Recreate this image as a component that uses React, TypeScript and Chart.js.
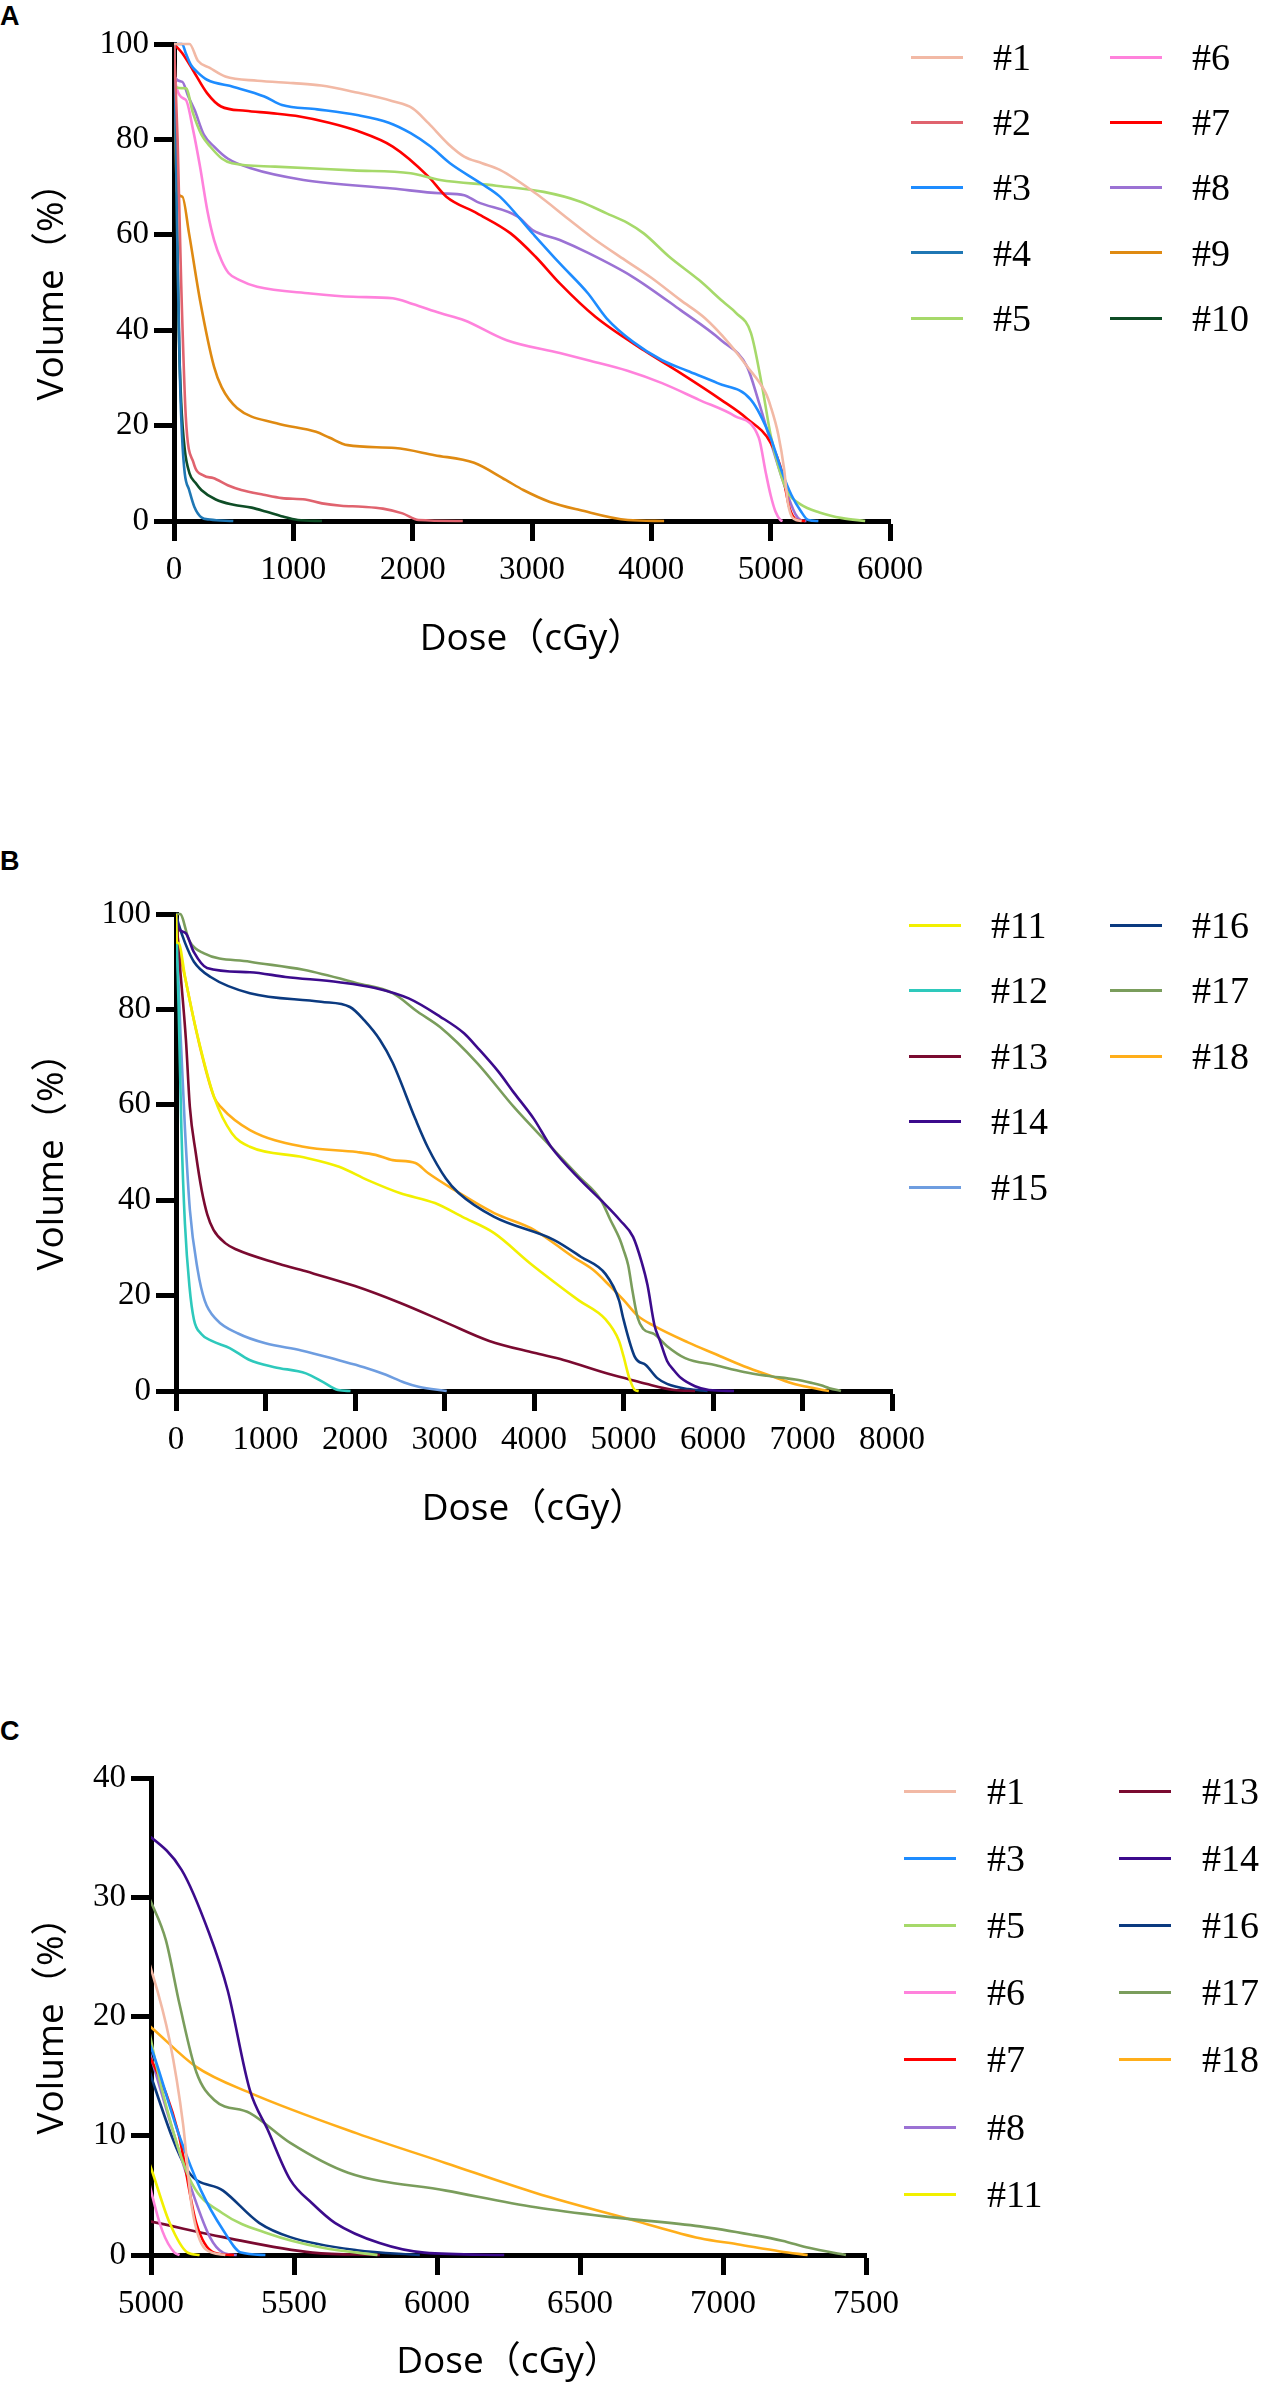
import { useEffect, useRef } from "react";
import { Chart, registerables } from "chart.js";

Chart.register(...registerables);

// DVH curves, [dose (cGy), volume (%)]
const dvh1 = [[0, 100], [130, 100], [200, 96.5], [300, 95], [430, 93.2], [700, 92.3], [1000, 91.8], [1234, 91.3], [1500, 90], [1833, 88], [2000, 86.5], [2132, 83.4], [2300, 79], [2432, 76.4], [2582, 75], [2731, 73.6], [3030, 68.7], [3315, 63.1], [3500, 59.5], [3780, 54.7], [4000, 51], [4245, 46.3], [4450, 42.5], [4649, 37.3], [4800, 32.5], [4959, 26.8], [5000, 24], [5065, 18], [5112, 11], [5143, 4], [5190, 0.5], [5260, 0]];
const dvh2 = [[0, 100], [30, 80], [60, 50], [99, 21.8], [164, 12.2], [250, 9.5], [328, 9], [450, 7.5], [564, 6.5], [750, 5.5], [904, 4.8], [1100, 4.5], [1240, 3.7], [1400, 3.2], [1578, 3], [1750, 2.6], [1915, 1.6], [2050, 0.2], [2420, 0]];
const dvh3 = [[0, 100], [68, 100], [100, 98], [142, 95.6], [200, 94], [277, 92.5], [500, 91], [757, 89], [905, 87.2], [1200, 86.3], [1534, 85.1], [1800, 83.5], [1983, 81.3], [2150, 78.5], [2313, 75], [2571, 70.8], [2731, 68], [3005, 60.3], [3233, 54], [3470, 47.7], [3625, 42.5], [3850, 37.5], [4090, 33.7], [4300, 31.5], [4555, 28.9], [4835, 25.4], [5000, 17.4], [5096, 10.2], [5175, 5.4], [5252, 2.1], [5315, 0.2], [5400, 0]];
const dvh4 = [[0, 100], [15, 80], [30, 55], [50, 30], [67, 18], [90, 10], [127, 6.5], [170, 3], [228, 0.8], [300, 0.3], [497, 0]];
const dvh5 = [[0, 100], [8, 91], [100, 90.7], [159, 85.5], [230, 81], [307, 78.4], [400, 76], [486, 75], [847, 74.3], [1500, 73.5], [1983, 72.9], [2230, 71.5], [2700, 70.3], [3098, 69], [3400, 67], [3625, 64.5], [3800, 62.5], [3936, 60.3], [4150, 55.4], [4400, 50.5], [4600, 46], [4711, 43.6], [4835, 39.4], [4930, 28], [5000, 18], [5070, 11], [5143, 6], [5250, 3.5], [5409, 1.8], [5600, 0.6], [5792, 0]];
const dvh6 = [[0, 100], [8, 92.4], [98, 88.3], [160, 82], [218, 74.3], [280, 65], [336, 58.9], [400, 54.5], [457, 52], [550, 50.5], [697, 49.1], [1145, 47.7], [1500, 47], [1833, 46.7], [2000, 45.5], [2230, 43.6], [2432, 42.1], [2788, 37.9], [3233, 35.2], [3470, 33.7], [3800, 31.5], [4090, 28.9], [4400, 25.4], [4700, 22], [4900, 17.5], [4960, 10], [5000, 5.4], [5040, 2], [5082, 0.2], [5100, 0]];
const dvh7 = [[0, 100], [68, 98.1], [159, 94.5], [277, 89.7], [394, 86.9], [600, 86], [815, 85.5], [1053, 84.8], [1300, 83.5], [1534, 81.8], [1833, 78.5], [2132, 72.2], [2282, 68], [2540, 64.5], [2821, 60.3], [3030, 55.4], [3233, 49.8], [3531, 42.8], [3936, 35.8], [4245, 31], [4585, 25.4], [4800, 21.5], [5000, 16.4], [5096, 10.2], [5158, 2.7], [5221, 0.2], [5290, 0]];
const dvh8 = [[0, 100], [8, 93], [68, 92.1], [120, 89], [172, 86.2], [250, 81], [336, 78.5], [450, 76], [637, 74], [1085, 71.5], [1833, 69.7], [2230, 68.7], [2432, 68.3], [2540, 66.9], [2881, 63.8], [3005, 61], [3233, 58.9], [3470, 56.2], [3843, 51.2], [4245, 44.2], [4585, 37.9], [4803, 32.3], [4895, 25.4], [5000, 16.6], [5128, 6.5], [5206, 1.5], [5252, 0.2], [5300, 0]];
const dvh9 = [[0, 100], [25, 69], [70, 68], [126, 60.3], [218, 46.3], [336, 32.3], [400, 28], [528, 23.7], [859, 20.5], [1190, 18.7], [1300, 17.5], [1455, 15.9], [1853, 15.3], [2184, 13.8], [2515, 12.2], [2780, 8.6], [2927, 6.5], [3150, 4], [3400, 2.3], [3803, 0.2], [4107, 0]];
const dvh10 = [[0, 100], [20, 70], [40, 40], [60, 25], [90, 15], [130, 10], [180, 8], [229, 6.5], [350, 4.5], [499, 3.4], [650, 2.8], [768, 2], [900, 1], [1038, 0.2], [1240, 0]];
const dvh11 = [[0, 100], [10, 94], [28, 93.9], [107, 86.2], [225, 75.7], [426, 61.6], [626, 54], [825, 51.2], [1425, 49], [1823, 47], [2142, 44.2], [2500, 41.5], [2893, 39.4], [3200, 36.5], [3555, 33.1], [3955, 26.8], [4250, 22.5], [4500, 19], [4800, 15], [4950, 10.5], [5000, 7.3], [5065, 2.7], [5128, 0.2], [5170, 0]];
const dvh12 = [[0, 100], [30, 80], [60, 55], [100, 35], [150, 22], [200, 15], [280, 12], [400, 10.5], [600, 9], [822, 6.5], [1100, 5], [1452, 3.7], [1650, 1.8], [1810, 0.2], [1950, 0]];
const dvh13 = [[0, 100], [40, 90], [111, 73.6], [155, 59.5], [220, 50], [287, 42.1], [350, 37], [419, 33.8], [550, 31], [682, 29.6], [1126, 26.8], [1391, 25.4], [2000, 22], [2500, 18.5], [3000, 14.5], [3500, 10.5], [4000, 8], [4330, 6.5], [4870, 3.4], [5000, 2.8], [5252, 1.5], [5565, 0.2], [5800, 0]];
const dvh14 = [[0, 100], [28, 97], [107, 96], [200, 92], [346, 88.7], [826, 87.8], [1225, 86.8], [1823, 85.7], [2224, 84.5], [2600, 82.3], [2950, 78.5], [3218, 75], [3363, 72.1], [3600, 67], [3777, 62.5], [4000, 57], [4190, 51.2], [4521, 44.2], [4749, 40], [4961, 35.8], [5107, 32.3], [5203, 27], [5268, 22.2], [5346, 13.8], [5408, 10.5], [5487, 6.3], [5565, 4.3], [5643, 2.7], [5799, 1], [5955, 0.2], [6235, 0]];
const dvh15 = [[0, 100], [50, 75], [100, 55], [155, 38], [242, 25.4], [320, 19], [450, 15], [700, 12], [1000, 10], [1400, 8.5], [1810, 6.5], [2100, 5], [2346, 3.4], [2550, 1.8], [2710, 0.9], [3025, 0]];
const dvh16 = [[0, 100], [28, 98], [100, 94], [200, 90], [387, 86.8], [826, 83.4], [1620, 81.6], [1944, 80.5], [2100, 77.8], [2279, 73.6], [2421, 68.8], [2675, 57], [2816, 51], [3017, 44.5], [3158, 41.5], [3555, 36.5], [4221, 31.7], [4527, 28.1], [4800, 24.5], [4950, 19], [5000, 15], [5128, 7.1], [5252, 5.4], [5378, 2.7], [5487, 1.5], [5720, 0.4], [5940, 0]];
const dvh17 = [[0, 100], [45, 100], [146, 94.5], [307, 91.8], [826, 90], [1425, 88.3], [2022, 85.5], [2421, 83.4], [2700, 79.5], [2950, 76.3], [3363, 68.8], [3777, 59.5], [4190, 51.2], [4500, 45], [4749, 40], [4850, 36], [4961, 31.7], [5000, 29.6], [5052, 26.4], [5100, 21], [5159, 15.3], [5221, 13], [5346, 11.9], [5487, 9.4], [5689, 6.9], [6032, 5.4], [6345, 4], [6600, 3.2], [6920, 2.4], [7100, 1.7], [7207, 1.2], [7300, 0.6], [7430, 0]];
const dvh18 = [[0, 100], [20, 95], [107, 86.2], [268, 72.1], [426, 61.6], [503, 59.5], [826, 54.7], [1425, 51.2], [2022, 50.1], [2230, 49.5], [2421, 48.4], [2675, 47.8], [2816, 45.7], [3114, 42.1], [3555, 37.3], [4000, 33.8], [4436, 28.1], [4660, 25.4], [4850, 22], [5000, 19.1], [5157, 15.8], [5346, 13.6], [5720, 10.2], [6032, 7.7], [6345, 5.2], [6689, 2.9], [6920, 1.4], [7050, 0.9], [7200, 0.3], [7296, 0]];

const seriesNames = ["#1", "#2", "#3", "#4", "#5", "#6", "#7", "#8", "#9", "#10", "#11", "#12", "#13", "#14", "#15", "#16", "#17", "#18"];
const seriesColors = ["#F2B9A5", "#E0636E", "#1E8CFF", "#1F77B4", "#A6D96A", "#FF82DC", "#FF0000", "#9B72D4", "#DF8A12", "#0E4D26", "#F2F000", "#2EC9BC", "#7A0A30", "#3C0B8C", "#6E9DE0", "#0B3A80", "#7A9D5C", "#FFAE1A"];
const allSeries = [dvh1, dvh2, dvh3, dvh4, dvh5, dvh6, dvh7, dvh8, dvh9, dvh10, dvh11, dvh12, dvh13, dvh14, dvh15, dvh16, dvh17, dvh18];

// tick labels
const doseTicksA = [0, 1000, 2000, 3000, 4000, 5000, 6000];
const doseTicksB = [0, 1000, 2000, 3000, 4000, 5000, 6000, 7000, 8000];
const doseTicksC = [5000, 5500, 6000, 6500, 7000, 7500];
const volTicksAB = [0, 20, 40, 60, 80, 100];
const volTicksC = [0, 10, 20, 30, 40];

// legend columns (series indices)
const legendA = [[0, 1, 2, 3, 4], [5, 6, 7, 8, 9]];
const legendB = [[10, 11, 12, 13, 14], [15, 16, 17]];
const legendC = [[0, 2, 4, 5, 6, 7, 10], [12, 13, 15, 16, 17]];

const PAGE_W = 1262;
const SERIF = '"Liberation Serif", "Times New Roman", serif';
const SANS = '"Open Sans", "Noto Sans CJK SC", sans-serif';

interface PanelProps {
  letter: string;
  letterTop: number;
  top: number;
  height: number;
  plot: { left: number; top: number; right: number; bottom: number };
  xTicks: number[];
  yTicks: number[];
  legend: number[][];
  legendTop: number;
  legendGap: number;
  lineX: number[];
  textX: number[];
  xTitlePad: number;
}

function DvhPanel(p: PanelProps) {
  const ref = useRef<HTMLCanvasElement>(null);

  useEffect(() => {
    if (!ref.current) return;
    const ids = p.legend.flat();
    const xMin = p.xTicks[0];
    const xMax = p.xTicks[p.xTicks.length - 1];
    const yMax = p.yTicks[p.yTicks.length - 1];

    const chart = new Chart(ref.current, {
      type: "line",
      data: {
        datasets: ids.map((i) => ({
          label: seriesNames[i],
          data: allSeries[i].map(([x, y]) => ({ x, y })),
          borderColor: seriesColors[i],
          backgroundColor: seriesColors[i],
          borderWidth: 2.6,
          pointRadius: 0,
          fill: false,
          cubicInterpolationMode: "monotone",
          clip: { left: 0, top: 2, right: 2, bottom: 2 },
        })),
      },
      options: {
        animation: false,
        responsive: false,
        events: [],
        layout: {
          padding: { left: 0, top: p.plot.top - p.top, right: PAGE_W - p.plot.right, bottom: 0 },
        },
        plugins: { legend: { display: false }, tooltip: { enabled: false } },
        scales: {
          x: {
            type: "linear",
            min: xMin,
            max: xMax,
            afterBuildTicks: (axis: any) => {
              axis.ticks = p.xTicks.map((v) => ({ value: v }));
            },
            afterFit: (axis: any) => {
              axis.height = p.top + p.height - p.plot.bottom;
            },
            grid: { drawOnChartArea: false, drawTicks: true, tickLength: 20, tickWidth: 5, tickColor: "#000", color: "#000" },
            border: { display: true, color: "#000", width: 5 },
            ticks: {
              color: "#000",
              font: { family: SERIF, size: 33 },
              padding: 10,
              autoSkip: false,
              maxRotation: 0,
              minRotation: 0,
              callback: (v: any) => String(v),
            },
            title: {
              display: true,
              text: "Dose（cGy）",
              color: "#000",
              font: { family: SANS, size: 37 },
              padding: { top: 0, bottom: p.xTitlePad },
            },
          },
          y: {
            type: "linear",
            min: 0,
            max: yMax,
            afterBuildTicks: (axis: any) => {
              axis.ticks = p.yTicks.map((v) => ({ value: v }));
            },
            afterFit: (axis: any) => {
              axis.width = p.plot.left;
            },
            grid: { drawOnChartArea: false, drawTicks: true, tickLength: 20, tickWidth: 5, tickColor: "#000", color: "#000" },
            border: { display: true, color: "#000", width: 5 },
            ticks: {
              color: "#000",
              font: { family: SERIF, size: 33 },
              padding: 5,
              callback: (v: any) => String(v),
            },
            title: {
              display: true,
              text: "Volume（%）",
              color: "#000",
              font: { family: SANS, size: 37 },
              padding: { top: 30, bottom: 0 },
            },
          },
        },
      } as any,
    });

    return () => {
      chart.destroy();
    };
  }, []);

  return (
    <>
      <div
        style={{
          position: "absolute",
          left: 0,
          top: p.letterTop,
          font: 'bold 27px "Liberation Sans", Arial, sans-serif',
          lineHeight: "27px",
        }}
      >
        {p.letter}
      </div>
      <canvas
        ref={ref}
        width={PAGE_W}
        height={p.height}
        style={{ position: "absolute", left: 0, top: p.top, width: PAGE_W, height: p.height }}
      />
      {p.legend.map((col, c) =>
        col.map((i, r) => {
          const y = p.legendTop + r * p.legendGap;
          return (
            <div key={`${c}-${r}`}>
              <div
                style={{
                  position: "absolute",
                  left: p.lineX[c],
                  top: y - 1.5,
                  width: 52,
                  height: 3,
                  background: seriesColors[i],
                }}
              />
              <div
                style={{
                  position: "absolute",
                  left: p.textX[c],
                  top: y - 21.4,
                  font: `38px ${SERIF}`,
                  lineHeight: "42px",
                  whiteSpace: "nowrap",
                  color: "#000",
                }}
              >
                {seriesNames[i]}
              </div>
            </div>
          );
        })
      )}
    </>
  );
}

export default function App() {
  return (
    <div
      style={{
        position: "absolute",
        left: 0,
        top: 0,
        width: PAGE_W,
        height: 2385,
        background: "#fff",
        overflow: "hidden",
      }}
    >
      <DvhPanel
        letter="A"
        letterTop={3}
        top={0}
        height={680}
        plot={{ left: 174, top: 44, right: 890, bottom: 521 }}
        xTicks={doseTicksA}
        yTicks={volTicksAB}
        legend={legendA}
        legendTop={57}
        legendGap={65.3}
        lineX={[911, 1110]}
        textX={[993, 1192]}
        xTitlePad={18}
      />
      <DvhPanel
        letter="B"
        letterTop={848}
        top={800}
        height={750}
        plot={{ left: 176, top: 914, right: 892, bottom: 1391 }}
        xTicks={doseTicksB}
        yTicks={volTicksAB}
        legend={legendB}
        legendTop={925}
        legendGap={65.5}
        lineX={[909, 1110]}
        textX={[991, 1192]}
        xTitlePad={18}
      />
      <DvhPanel
        letter="C"
        letterTop={1718}
        top={1700}
        height={685}
        plot={{ left: 151, top: 1778, right: 866, bottom: 2255 }}
        xTicks={doseTicksC}
        yTicks={volTicksC}
        legend={legendC}
        legendTop={1791}
        legendGap={67.2}
        lineX={[904, 1119]}
        textX={[987, 1202]}
        xTitlePad={0}
      />
    </div>
  );
}
